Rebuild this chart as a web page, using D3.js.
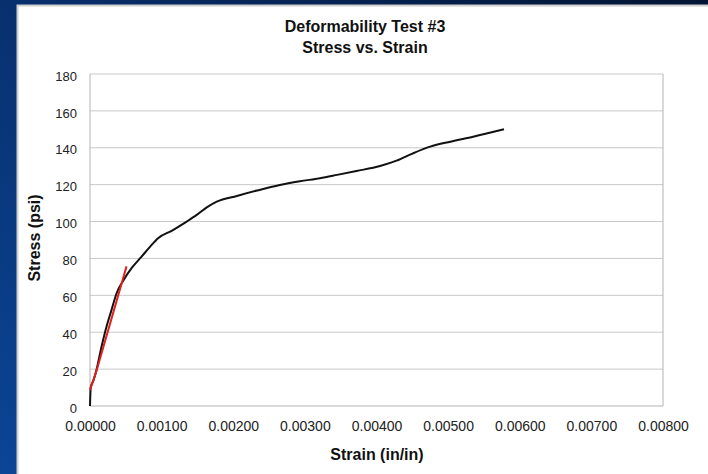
<!DOCTYPE html>
<html>
<head>
<meta charset="utf-8">
<script src="https://cdn.jsdelivr.net/npm/d3@7"></script>
<style>
  html, body { margin: 0; padding: 0; background: #0b3f8a; }
  svg { display: block; font-family: "Liberation Sans", Arial, sans-serif; }
</style>
</head>
<body>
<div id="chart"></div>
<script>
const width = 708;
const height = 474;

// measured curve (strain in/in, stress psi)
const strain = [0, 0.00001, 0.00005, 0.00009, 0.00016, 0.00023, 0.00030, 0.00037, 0.00047,
  0.00058, 0.00072, 0.00084, 0.00095, 0.00114, 0.00135, 0.00149, 0.00163, 0.00177,
  0.00205, 0.00233, 0.00265, 0.00293, 0.00321, 0.00345, 0.00372, 0.00405, 0.00428,
  0.00451, 0.00475, 0.00503, 0.00535, 0.00578];
const stress = [0, 10, 14, 19.5, 32, 43, 52, 61, 68.3,
  74.7, 81, 86.4, 91, 95, 100, 103.6, 107.7, 110.8,
  113.9, 116.8, 119.8, 121.8, 123.5, 125.3, 127.4, 130.1, 133,
  137, 140.6, 143.3, 146, 150];

// red modulus line
const fitStrain = [0, 0.00009, 0.00051];
const fitStress = [8.7, 19, 75.7];

const xTicks = [0, 0.001, 0.002, 0.003, 0.004, 0.005, 0.006, 0.007, 0.008];
const yTicks = [0, 20, 40, 60, 80, 100, 120, 140, 160, 180];

const svg = d3
  .select("#chart")
  .append("svg")
  .attr("width", width)
  .attr("height", height);

// slide background
const defs = svg.append("defs");
const grad = defs.append("linearGradient")
  .attr("id", "bg")
  .attr("x1", "0").attr("y1", "1").attr("x2", "1").attr("y2", "0");
grad.append("stop").attr("offset", "0").attr("stop-color", "#0b4596");
grad.append("stop").attr("offset", "0.5").attr("stop-color", "#08306e");
grad.append("stop").attr("offset", "1").attr("stop-color", "#031433");
svg.append("rect").attr("width", width).attr("height", height).attr("fill", "url(#bg)");

// white chart panel
svg.append("rect")
  .attr("x", 17.5).attr("y", 5.5)
  .attr("width", width).attr("height", height)
  .attr("fill", "#fff")
  .attr("stroke", "#cfcfcf")
  .attr("stroke-width", 2);

const margin = { left: 90, top: 74, right: 663, bottom: 406 };

const x = d3.scaleLinear().domain([0, 0.008]).range([margin.left, margin.right]);
const y = d3.scaleLinear().domain([0, 180]).range([margin.bottom, margin.top]);

// gridlines
svg.append("g")
  .selectAll("line")
  .data(yTicks.filter((d) => d > 0))
  .join("line")
  .attr("x1", margin.left).attr("x2", margin.right)
  .attr("y1", (d) => y(d)).attr("y2", (d) => y(d))
  .attr("stroke", "#c8c8c8")
  .attr("stroke-width", 1);

// plot frame
svg.append("line")
  .attr("x1", margin.right).attr("x2", margin.right)
  .attr("y1", margin.top).attr("y2", margin.bottom)
  .attr("stroke", "#b4b4b4");
svg.append("line")
  .attr("x1", margin.left).attr("x2", margin.left)
  .attr("y1", margin.top).attr("y2", margin.bottom)
  .attr("stroke", "#b4b4b4");
svg.append("line")
  .attr("x1", margin.left).attr("x2", margin.right)
  .attr("y1", margin.bottom).attr("y2", margin.bottom)
  .attr("stroke", "#b4b4b4");

// axes
const yAxis = svg.append("g")
  .attr("transform", `translate(${margin.left - 13},2)`)
  .call(d3.axisLeft(y).tickValues(yTicks).tickSize(0).tickPadding(0));
yAxis.select(".domain").remove();
yAxis.selectAll("text")
  .attr("font-size", 13)
  .attr("fill", "#222")
  .attr("font-family", "Liberation Sans, Arial, sans-serif");

const xAxis = svg.append("g")
  .attr("transform", `translate(0,${margin.bottom + 15})`)
  .call(d3.axisBottom(x).tickValues(xTicks).tickSize(0).tickPadding(0).tickFormat(d3.format(".5f")));
xAxis.select(".domain").remove();
xAxis.selectAll("text")
  .attr("font-size", 14)
  .attr("fill", "#222")
  .attr("font-family", "Liberation Sans, Arial, sans-serif");

// data lines
const curve = strain.map((s, i) => [s, stress[i]]);
const fit = fitStrain.map((s, i) => [s, fitStress[i]]);
const line = d3.line().x((d) => x(d[0])).y((d) => y(d[1])).curve(d3.curveMonotoneX);

svg.append("path")
  .datum(curve)
  .attr("d", line)
  .attr("fill", "none")
  .attr("stroke", "#111")
  .attr("stroke-width", 2);

svg.append("path")
  .datum(fit)
  .attr("d", d3.line().x((d) => x(d[0])).y((d) => y(d[1])))
  .attr("fill", "none")
  .attr("stroke", "#e0201c")
  .attr("stroke-width", 2);

// titles
const title = svg.append("text")
  .attr("text-anchor", "middle")
  .attr("font-weight", "bold")
  .attr("font-size", 16)
  .attr("fill", "#111");
title.append("tspan").attr("x", 365).attr("y", 32).text("Deformability Test #3");
title.append("tspan").attr("x", 365).attr("y", 53).text("Stress vs. Strain");

svg.append("text")
  .attr("x", 377).attr("y", 460)
  .attr("text-anchor", "middle")
  .attr("font-weight", "bold")
  .attr("font-size", 16)
  .attr("fill", "#111")
  .text("Strain (in/in)");

svg.append("text")
  .attr("transform", "translate(40,238) rotate(-90)")
  .attr("text-anchor", "middle")
  .attr("font-weight", "bold")
  .attr("font-size", 16)
  .attr("fill", "#111")
  .text("Stress (psi)");
</script>
</body>
</html>
